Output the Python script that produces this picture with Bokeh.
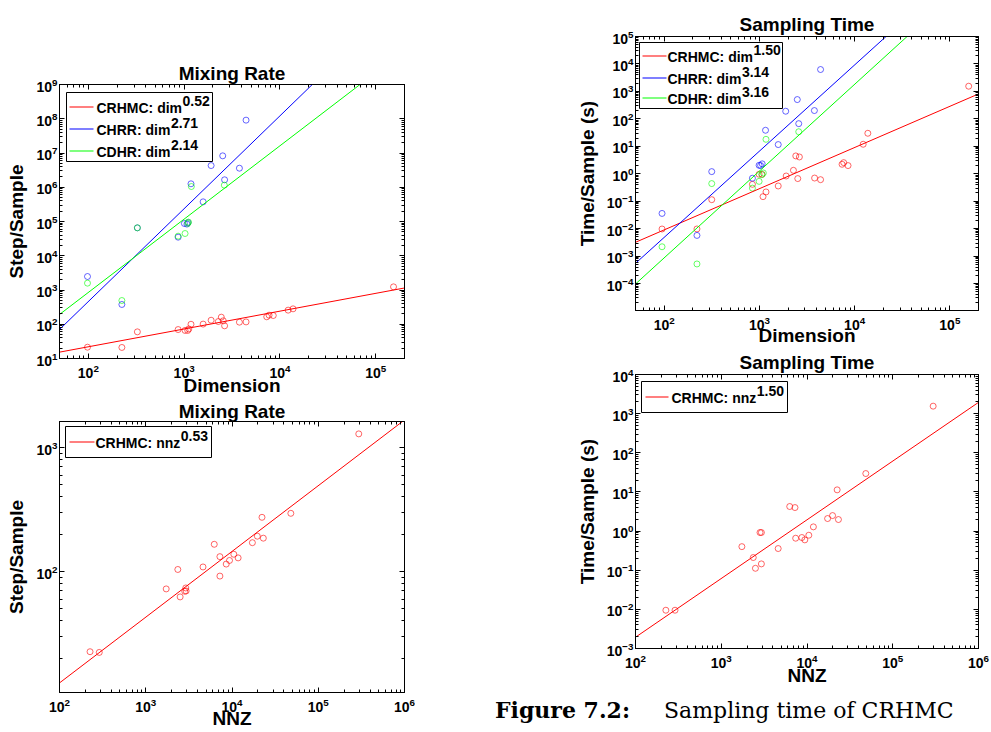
from bokeh.plotting import figure
from bokeh.models import (Range1d, FixedTicker, LogAxis, Label, BoxAnnotation,
                          CustomJSTickFormatter, Div)
from bokeh.layouts import row, column
from bokeh.embed import file_html
from bokeh.resources import INLINE

# ---------------- data ----------------
# Mixing rate vs dimension
mix_dim_crhmc_x = [98, 224, 325, 866, 1023, 1091, 1120, 1180, 1580, 1914, 2276, 2444,
                   2563, 2647, 3779, 4433, 7290, 7710, 8530, 12190, 13720, 153600]
mix_dim_crhmc_y = [21.4, 21, 60, 70, 66, 66, 73, 100, 101, 131, 120, 161,
                   126, 90, 115, 117, 165, 184, 180, 258, 282, 1236]
mix_dim_chrr_x = [98, 224, 325, 866, 1007, 1070, 1100, 1180, 1580, 1914, 2530, 2647, 3779, 4433]
mix_dim_chrr_y = [2478, 378, 65300, 34900, 87500, 84000, 93000, 1.26e6, 3.75e5, 4.3e6,
                  8.26e6, 1.65e6, 3.6e6, 9.1e7]
mix_dim_cdhr_x = [98, 224, 325, 866, 1023, 1091, 1110, 1190, 2630]
mix_dim_cdhr_y = [1585, 493, 65300, 37300, 44600, 88000, 96000, 1.05e6, 1.15e6]

# Sampling time vs dimension
time_dim_crhmc_x = [95, 221, 316, 845, 993, 1067, 1092, 1173, 1577, 1911, 2278, 2411,
                    2530, 2630, 3800, 4390, 7380, 7680, 8530, 12300, 13770, 157800]
time_dim_crhmc_y = [0.00975, 0.0098, 0.114, 0.414, 0.96, 0.96, 0.147, 0.218, 0.36, 0.83, 1.34, 4.47,
                    0.67, 4.1, 0.70, 0.61, 2.22, 2.55, 1.99, 11.9, 29.9, 1548]
time_dim_chrr_x = [95, 221, 316, 845, 993, 1030, 1070, 1160, 1577, 1890, 2500, 2590, 3780, 4390]
time_dim_chrr_y = [0.036, 0.0057, 1.2, 0.69, 2.04, 2.0, 2.3, 38.5, 11.6, 190, 505, 67, 201, 6270]
time_dim_cdhr_x = [95, 221, 316, 845, 993, 1060, 1100, 1173, 2590]
time_dim_cdhr_y = [0.0022, 0.00052, 0.44, 0.30, 0.53, 0.93, 1.07, 18, 34]

# Mixing rate vs NNZ
mix_nnz_x = [226, 289, 1726, 2354, 2504, 2833, 2911, 2938, 4612, 6227, 7240, 7240,
             8570, 9360, 10500, 11780, 17230, 19670, 22270, 23070, 48100, 295000]
mix_nnz_y = [22.6, 22.3, 72.5, 104, 62.5, 69.4, 73.8, 69.8, 109, 166, 132, 92,
             115, 123, 138, 129, 171, 193, 274, 186, 295, 1289]

# Sampling time vs NNZ
time_nnz_x = [226, 289, 1740, 2362, 2504, 2833, 2938, 2938, 4612, 6290, 7240, 7380,
              8710, 9430, 10500, 11870, 17390, 19870, 22470, 23260, 48500, 296000]
time_nnz_y = [0.0095, 0.0095, 0.40, 0.211, 0.112, 0.918, 0.918, 0.145, 0.358, 4.24, 3.99, 0.657,
              0.684, 0.596, 0.783, 1.28, 2.09, 2.49, 11.3, 1.97, 29.5, 1552]

# power-law fits: exponent and log10 of coefficient
mix_dim_exp = [0.52, 2.71, 2.14]
mix_dim_logc = [0.302, -2.757, -1.351]
time_dim_exp = [1.50, 3.14, 3.16]
time_dim_logc = [-5.043, -8.596, -9.382]
mix_nnz_exp = [0.53]
mix_nnz_logc = [0.0425]
time_nnz_exp = [1.50]
time_nnz_logc = [-5.712]

methods = ["CRHMC", "CHRR", "CDHR"]
colors = ["#ff0000", "#0000ff", "#00ff00"]

# decades carrying tick labels
dim_x_decades = [2, 3, 4, 5]
nnz_x_decades = [2, 3, 4, 5, 6]
mix_dim_y_decades = [1, 2, 3, 4, 5, 6, 7, 8, 9]
time_dim_y_decades = [-4, -3, -2, -1, 0, 1, 2, 3, 4, 5]
mix_nnz_y_decades = [2, 3]
time_nnz_y_decades = [-3, -2, -1, 0, 1, 2, 3, 4]

FONT = "Liberation Sans"

# Arial/Liberation Sans Bold advance widths (per 1000 em) for legend layout
BOLD_W = {' ': 278, ':': 333, 'C': 722, 'D': 722, 'H': 722, 'M': 833, 'R': 722,
          'N': 722, 'Z': 611, 'd': 611, 'i': 278, 'm': 889, 'n': 611, 'z': 500}


def text_w(s, size):
    return sum(BOLD_W.get(c, 556) for c in s) * size / 1000.0


def minor_ticks(lo, hi):
    out = []
    for k in range(-8, 8):
        for m in range(2, 10):
            v = m * 10.0 ** k
            if lo <= v <= hi:
                out.append(v)
    return out


def style_axis(ax, ticker, labels=True, label_standoff=2, tick_standoff=2):
    ax.ticker = ticker
    ax.axis_line_color = "black"
    ax.major_tick_line_color = "black"
    ax.minor_tick_line_color = "black"
    ax.major_tick_in = 5
    ax.major_tick_out = 0
    ax.minor_tick_in = 3
    ax.minor_tick_out = 0
    if labels:
        ax.major_label_text_font = FONT
        ax.major_label_text_font_style = "bold"
        ax.major_label_text_font_size = "14px"
        ax.major_label_text_color = "black"
        ax.major_label_standoff = tick_standoff
        ax.axis_label_text_font = FONT
        ax.axis_label_text_font_style = "bold"
        ax.axis_label_text_font_size = "19px"
        ax.axis_label_text_color = "black"
        ax.axis_label_standoff = label_standoff
    else:
        ax.formatter = CustomJSTickFormatter(code="return ''")
        ax.major_label_text_font_size = "1px"
        ax.major_label_standoff = 0


def make_panel(width, height, bl, br, bt, bb, xr, yr, xdec, ydec, title, xlabel, ylabel,
               title_standoff, x_label_standoff):
    p = figure(width=width, height=height, x_axis_type="log", y_axis_type="log",
               x_range=Range1d(*xr), y_range=Range1d(*yr),
               output_backend="svg", toolbar_location=None,
               min_border_left=bl, min_border_right=br, min_border_top=bt, min_border_bottom=bb,
               title=title)
    p.title.align = "center"
    p.title.text_font = FONT
    p.title.text_font_size = "19px"
    p.title.text_font_style = "bold"
    p.title.text_color = "black"
    p.title.standoff = title_standoff
    p.grid.visible = False
    p.outline_line_color = "black"
    p.outline_line_width = 1
    p.background_fill_color = "white"
    p.border_fill_color = "white"
    xt = FixedTicker(ticks=[10.0 ** k for k in xdec], minor_ticks=minor_ticks(*xr))
    yt = FixedTicker(ticks=[10.0 ** k for k in ydec], minor_ticks=minor_ticks(*yr))
    style_axis(p.xaxis[0], xt, label_standoff=x_label_standoff, tick_standoff=5)
    style_axis(p.yaxis[0], yt, label_standoff=6, tick_standoff=2)
    p.xaxis.axis_label = xlabel
    p.yaxis.axis_label = ylabel
    top = LogAxis()
    style_axis(top, FixedTicker(ticks=[10.0 ** k for k in xdec], minor_ticks=minor_ticks(*xr)), labels=False)
    p.add_layout(top, "above")
    right = LogAxis()
    style_axis(right, FixedTicker(ticks=[10.0 ** k for k in ydec], minor_ticks=minor_ticks(*yr)), labels=False)
    p.add_layout(right, "right")
    return p


def add_series(p, xs, ys, color):
    p.scatter(xs, ys, marker="circle", size=6, fill_color=None, line_color=color,
              line_alpha=0.6, line_width=1)


def add_fit(p, xr, expo, logc, color):
    xs = [xr[0], xr[1]]
    ys = [10.0 ** logc * x ** expo for x in xs]
    p.line(xs, ys, line_color=color, line_width=1)


def add_legend(p, frame_h, box, rows, line_x, text_x, entries):
    l, t, w, h = box
    p.add_layout(BoxAnnotation(left=l, right=l + w, top=frame_h - t, bottom=frame_h - t - h,
                               left_units="screen", right_units="screen",
                               top_units="screen", bottom_units="screen",
                               fill_color="white", fill_alpha=1.0,
                               line_color="black", line_width=1, line_alpha=1.0))
    for ry, (color, base, sup) in zip(rows, entries):
        y = frame_h - ry
        p.add_layout(BoxAnnotation(left=line_x[0], right=line_x[1], top=y + 1, bottom=y,
                                   left_units="screen", right_units="screen",
                                   top_units="screen", bottom_units="screen",
                                   fill_color=color, fill_alpha=1.0,
                                   line_color=color, line_alpha=0.0))
        p.add_layout(Label(x=text_x, y=y, x_units="screen", y_units="screen", text=base,
                           text_font=FONT, text_font_style="bold", text_font_size="14px",
                           text_color="black", text_baseline="middle", text_align="left"))
        p.add_layout(Label(x=text_x + text_w(base, 14) + 0.5, y=y + 6.5, x_units="screen",
                           y_units="screen", text=sup,
                           text_font=FONT, text_font_style="bold", text_font_size="14px",
                           text_color="black", text_baseline="middle", text_align="left"))


# ---------------- panel 1: mixing rate vs dimension ----------------
xr_dim = (50, 2e5)
# 398 = 84 (top) + 274 (frame) + 40 (bottom); 415 = 59 + 348 + 8
p1 = make_panel(415, 398, 59, 8, 84, 40, xr_dim, (10, 1e9), dim_x_decades, mix_dim_y_decades,
                "Mixing Rate", "Dimension", "Step/Sample", 1, -6)
for xs, ys, c in ((mix_dim_crhmc_x, mix_dim_crhmc_y, colors[0]),
                  (mix_dim_chrr_x, mix_dim_chrr_y, colors[1]),
                  (mix_dim_cdhr_x, mix_dim_cdhr_y, colors[2])):
    add_series(p1, xs, ys, c)
for e, lc, c in zip(mix_dim_exp, mix_dim_logc, colors):
    add_fit(p1, xr_dim, e, lc, c)
add_legend(p1, 274, (7, 8, 146, 69), [23, 45, 67], (10, 34), 37,
           [(c, m + ": dim", "%.2f" % e) for m, c, e in zip(methods, colors, mix_dim_exp)])

# ---------------- panel 2: sampling time vs dimension ----------------
# 348 = 36 + 275 + 37; 575 = 220 + 347 + 8
p2 = make_panel(575, 348, 220, 8, 36, 37, xr_dim, (1.05e-5, 1e5), dim_x_decades, time_dim_y_decades,
                "Sampling Time", "Dimension", "Time/Sample (s)", 3, -8)
for xs, ys, c in ((time_dim_crhmc_x, time_dim_crhmc_y, colors[0]),
                  (time_dim_chrr_x, time_dim_chrr_y, colors[1]),
                  (time_dim_cdhr_x, time_dim_cdhr_y, colors[2])):
    add_series(p2, xs, ys, c)
for e, lc, c in zip(time_dim_exp, time_dim_logc, colors):
    add_fit(p2, xr_dim, e, lc, c)
add_legend(p2, 275, (4, 7, 143, 66), [21, 43, 63], (7, 31), 32,
           [(c, m + ": dim", "%.2f" % e) for m, c, e in zip(methods, colors, time_dim_exp)])

# ---------------- panel 3: mixing rate vs NNZ ----------------
xr_nnz = (1e2, 1e6)
# 333 = 23 + 271 + 39; 415 = 57 + 347 + 11
p3 = make_panel(415, 333, 57, 11, 23, 39, xr_nnz, (10.6, 1622), nnz_x_decades, mix_nnz_y_decades,
                "Mixing Rate", "NNZ", "Step/Sample", 0, -7)
add_series(p3, mix_nnz_x, mix_nnz_y, colors[0])
add_fit(p3, xr_nnz, mix_nnz_exp[0], mix_nnz_logc[0], colors[0])
add_legend(p3, 271, (6, 5, 146, 31), [21], (10, 35), 36,
           [(colors[0], "CRHMC: nnz", "%.2f" % mix_nnz_exp[0])])

# ---------------- panel 4: sampling time vs NNZ ----------------
# 340 = 26 + 274 + 40; 575 = 216 + 347 + 12
p4 = make_panel(575, 340, 216, 12, 26, 40, xr_nnz, (1e-3, 1e4), nnz_x_decades, time_nnz_y_decades,
                "Sampling Time", "NNZ", "Time/Sample (s)", 3, -6)
add_series(p4, time_nnz_x, time_nnz_y, colors[0])
add_fit(p4, xr_nnz, time_nnz_exp[0], time_nnz_logc[0], colors[0])
add_legend(p4, 274, (6, 7, 146, 31), [23], (10, 33), 36,
           [(colors[0], "CRHMC: nnz", "%.2f" % time_nnz_exp[0])])

caption = Div(
    text=('<div style="font-family: \'DejaVu Serif\', serif; font-size: 22px; line-height: 26px; '
          'white-space: nowrap; margin: 0 0 0 75px; padding-top: 4px; color: black;">'
          '<b>Figure 7.2:</b><span style="display:inline-block; width: 34px;"></span>'
          'Sampling time of CRHMC</div>'),
    width=575, height=43, styles={"overflow": "hidden"})

layout = row(column(p1, p3), column(p2, p4, caption))

open("out.html", "w").write(file_html(layout, INLINE))
